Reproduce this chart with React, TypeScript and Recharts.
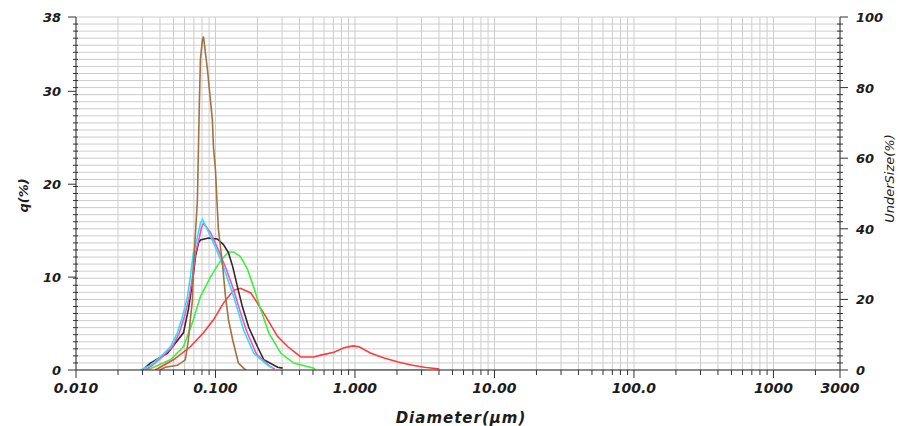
import { LineChart, Line, XAxis, YAxis, CartesianGrid } from "recharts";

// particle size distribution curves, [diameter µm, q %]
const brownRows: [number, number][] = [
  [0.04, 0], [0.0437, 0.3], [0.0533, 0.5], [0.0608, 1.1], [0.0639, 3.2], [0.066, 5.4],
  [0.0683, 7.5], [0.0694, 11], [0.0718, 14.7], [0.0742, 18.3], [0.0755, 24], [0.0767, 29],
  [0.078, 33.5], [0.0806, 35.5], [0.082, 35.9], [0.0876, 32.3], [0.095, 26.9], [0.0967, 24],
  [0.1, 21.5], [0.103, 17.5], [0.105, 15.1], [0.112, 11.5], [0.118, 7.9], [0.124, 5.4],
  [0.133, 3.2], [0.146, 0.75], [0.159, 0.2], [0.165, 0],
];

const cyanRows: [number, number][] = [
  [0.0289, 0], [0.0341, 0.5], [0.0402, 1.4], [0.0475, 2.5], [0.0533, 4], [0.0579, 5.7],
  [0.0629, 7.9], [0.066, 10], [0.0694, 12.6], [0.0742, 14.3], [0.078, 15.8], [0.0806, 16.2],
  [0.0876, 15.1], [0.1, 13.2], [0.114, 11.1], [0.128, 8.9], [0.135, 7.9], [0.144, 6.5],
  [0.159, 4.3], [0.188, 1.8], [0.237, 0.5], [0.257, 0.2],
];

const pinkRows: [number, number][] = [
  [0.0314, 0], [0.0352, 0.5], [0.0415, 1.4], [0.049, 2.5], [0.0551, 4], [0.0598, 5.7],
  [0.065, 7.9], [0.0683, 10], [0.0718, 12.6], [0.0767, 14.3], [0.0793, 15.3], [0.082, 15.8],
  [0.092, 14.8], [0.105, 12.9], [0.12, 10.8], [0.135, 8.6], [0.151, 6.2], [0.167, 4.2],
  [0.197, 1.7], [0.241, 0.5], [0.266, 0.1],
];

const blackRows: [number, number][] = [
  [0.0299, 0], [0.0341, 0.75], [0.0452, 1.8], [0.0589, 4], [0.0639, 6.5], [0.0683, 9.4],
  [0.0718, 12.2], [0.0755, 13.7], [0.078, 14.0], [0.089, 14.2], [0.103, 14.1], [0.114, 13.5],
  [0.124, 12.6], [0.133, 11.1], [0.144, 8.9], [0.156, 6.8], [0.173, 4.6], [0.2, 2.5],
  [0.222, 1.1], [0.279, 0.3], [0.303, 0.2],
];

const greenRows: [number, number | null][] = [
  [0.0324, 0], [0.0475, 1.1], [0.0589, 2.5], [0.0683, 5.1], [0.078, 7.9], [0.092, 10],
  [0.109, 11.8], [0.124, 12.7], [0.135, 12.7], [0.151, 12.2], [0.17, 10.8], [0.188, 8.9],
  [0.211, 6.5], [0.241, 4], [0.294, 1.8], [0.364, 0.75], [0.507, 0.2], [0.52, 0],
  [0.7, null], [0.875, 0], [3.19, 0],
];

const redRows: [number, number][] = [
  [0.037, 0], [0.0499, 1.1], [0.066, 2.5], [0.082, 4], [0.0967, 5.4], [0.114, 7.2],
  [0.135, 8.6], [0.151, 8.8], [0.179, 8.3], [0.2, 7.2], [0.237, 5.4], [0.279, 3.6],
  [0.33, 2.5], [0.409, 1.4], [0.507, 1.4], [0.569, 1.6], [0.706, 1.9], [0.834, 2.4],
  [0.968, 2.6], [1.07, 2.5], [1.3, 1.8], [1.62, 1.3], [2.04, 0.86], [2.53, 0.54],
  [3.14, 0.3], [4.02, 0.1],
];

const xLabels = [
  { v: 0.01, t: "0.010" },
  { v: 0.1, t: "0.100" },
  { v: 1, t: "1.000" },
  { v: 10, t: "10.00" },
  { v: 100, t: "100.0" },
  { v: 1000, t: "1000" },
  { v: 3000, t: "3000" },
];
const leftLabels = [0, 10, 20, 30, 38];
const rightLabels = [0, 20, 40, 60, 80, 100];

const toPts = (rows: [number, number | null][]) => rows.map(([d, q]) => ({ d, q }));

// log grid: 1..9 in every decade, up to 3000
const xTicks: number[] = [];
for (let e = -2; e <= 3; e++) {
  for (let m = 1; m <= 9; m++) {
    const v = +(m * Math.pow(10, e)).toPrecision(3);
    if (v <= 3000) xTicks.push(v);
  }
}
// minor marks every 2 % of the undersize axis
const rightTicks = Array.from({ length: 51 }, (_, i) => i * 2);
const leftTicks = Array.from(
  new Set([...rightTicks.map((v) => +(v * 0.38).toFixed(2)), ...leftLabels])
).sort((a, b) => a - b);

const FONT = "'DejaVu Sans', Verdana, sans-serif";
const AXIS = "#333";
const TXT = "#1c1c1c";

const XTick = ({ x, y, payload }: any) => {
  const lab = xLabels.find((l) => Math.abs(l.v - payload.value) / l.v < 1e-6);
  return (
    <g>
      <line x1={x} x2={x} y1={y} y2={y + (lab ? 8 : 5)} stroke={AXIS} />
      {lab && (
        <text x={x} y={y + 23} textAnchor="middle" fontFamily={FONT} fontSize={14}
          fontWeight="bold" fontStyle="italic" fill={TXT}>
          {lab.t}
        </text>
      )}
    </g>
  );
};

const LeftTick = ({ x, y, payload }: any) => {
  const major = leftLabels.includes(payload.value);
  return (
    <g>
      {major ? (
        <line x1={x - 8} x2={x} y1={y} y2={y} stroke={AXIS} />
      ) : (
        <line x1={x - 3} x2={x + 2} y1={y} y2={y} stroke={AXIS} />
      )}
      {major && (
        <text x={x - 15} y={y} dy={5} textAnchor="end" fontFamily={FONT} fontSize={13}
          fontWeight="bold" fontStyle="italic" fill={TXT}>
          {payload.value}
        </text>
      )}
    </g>
  );
};

const RightTick = ({ x, y, payload }: any) => {
  const major = rightLabels.includes(payload.value);
  return (
    <g>
      {major ? (
        <line x1={x} x2={x + 8} y1={y} y2={y} stroke={AXIS} />
      ) : (
        <line x1={x - 3} x2={x + 3} y1={y} y2={y} stroke={AXIS} />
      )}
      {major && (
        <text x={x + 16} y={y} dy={5} textAnchor="start" fontFamily={FONT} fontSize={13}
          fontWeight="bold" fontStyle="italic" fill={TXT}>
          {payload.value}
        </text>
      )}
    </g>
  );
};

const series = [
  { name: "red", rows: redRows, color: "#ff3b3b" },
  { name: "green", rows: greenRows, color: "#3ef03e" },
  { name: "black", rows: blackRows, color: "#2b2b2b" },
  { name: "pink", rows: pinkRows, color: "#ff4fc0" },
  { name: "cyan", rows: cyanRows, color: "#2fe0f5" },
  { name: "brown", rows: brownRows, color: "#a27242" },
];

export default function App() {
  return (
    <div style={{ width: 897, height: 418 }}>
      <LineChart width={897} height={418} margin={{ top: 9, right: 10, bottom: 2, left: 8 }}>
        <CartesianGrid yAxisId="u" stroke="#cdcdcd" strokeWidth={1} />
        <XAxis
          dataKey="d"
          type="number"
          scale="log"
          domain={[0.01, 3000]}
          ticks={xTicks}
          interval={0}
          height={54}
          tickLine={false}
          tickSize={0}
          tickMargin={0}
          tick={<XTick />}
          axisLine={{ stroke: AXIS }}
          allowDataOverflow
          label={{
            content: (p: any) => {
              const vb = p.viewBox;
              return (
                <text x={vb.x + vb.width / 2 + 3} y={vb.y + 53} textAnchor="middle"
                  fontFamily={FONT} fontSize={15} fontWeight="bold" fontStyle="italic"
                  letterSpacing={1} fill={TXT}>
                  Diameter(μm)
                </text>
              );
            },
          }}
        />
        <YAxis
          yAxisId="q"
          orientation="left"
          width={60}
          type="number"
          domain={[0, 38]}
          allowDataOverflow
          ticks={leftTicks}
          interval={0}
          tickLine={false}
          tickSize={0}
          tickMargin={0}
          tick={<LeftTick />}
          axisLine={{ stroke: AXIS }}
          label={{
            content: (p: any) => {
              const vb = p.viewBox;
              const cx = vb.x + 7;
              const cy = vb.y + vb.height / 2 + 2;
              return (
                <text x={cx} y={cy} transform={`rotate(-90, ${cx}, ${cy})`} textAnchor="middle"
                  dominantBaseline="central" fontFamily={FONT} fontSize={13} fontWeight="bold"
                  fontStyle="italic" fill={TXT}>
                  q(%)
                </text>
              );
            },
          }}
        />
        <YAxis
          yAxisId="u"
          orientation="right"
          width={55}
          type="number"
          domain={[0, 100]}
          allowDataOverflow
          ticks={rightTicks}
          interval={0}
          tickLine={false}
          tickSize={0}
          tickMargin={0}
          tick={<RightTick />}
          axisLine={{ stroke: AXIS }}
          label={{
            content: (p: any) => {
              const vb = p.viewBox;
              const cx = vb.x + 49;
              const cy = vb.y + vb.height / 2 - 15;
              return (
                <text x={cx} y={cy} transform={`rotate(-90, ${cx}, ${cy})`} textAnchor="middle"
                  dominantBaseline="central" fontFamily={FONT} fontSize={13}
                  fontStyle="italic" fill={TXT}>
                  UnderSize(%)
                </text>
              );
            },
          }}
        />
        {series.map((s) => (
          <Line
            key={s.name}
            yAxisId="q"
            data={toPts(s.rows)}
            dataKey="q"
            type="linear"
            stroke={s.color}
            strokeWidth={1.6}
            dot={false}
            activeDot={false}
            isAnimationActive={false}
          />
        ))}
      </LineChart>
    </div>
  );
}
